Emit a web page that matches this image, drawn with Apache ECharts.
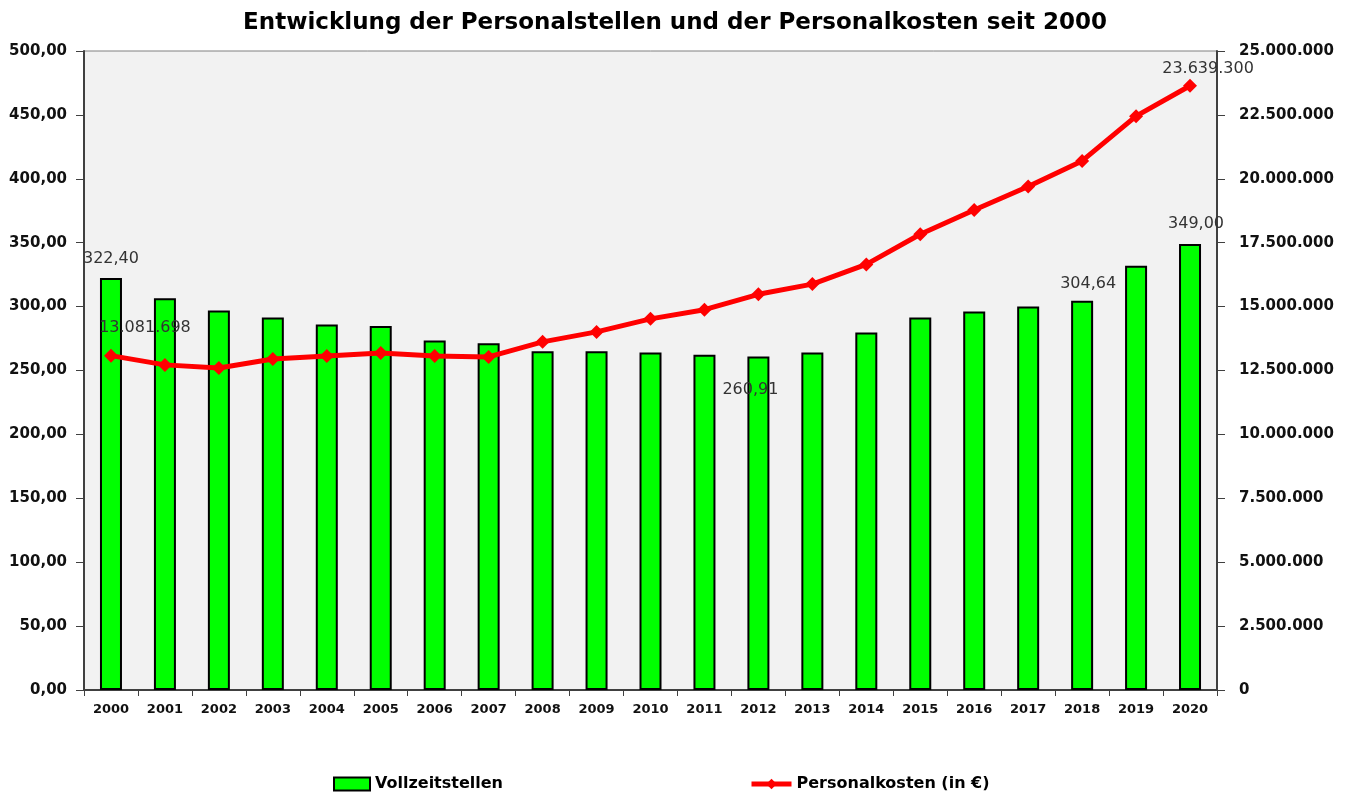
<!DOCTYPE html>
<html>
<head>
<meta charset="utf-8">
<title>Personalstellen und Personalkosten</title>
<script src="https://cdn.jsdelivr.net/npm/echarts@6/dist/echarts.min.js"></script>
<style>
  html, body { margin: 0; padding: 0; background: #fff; }
  #main { width: 1350px; height: 796px; }
</style>
</head>
<body>
<div id="main"></div>
<script>
// Jahre
var years = ['2000','2001','2002','2003','2004','2005','2006','2007','2008','2009','2010',
             '2011','2012','2013','2014','2015','2016','2017','2018','2019','2020'];
// Vollzeitstellen
var stellen = [322.40, 306.5, 297.0, 291.5, 286.0, 284.8, 273.5, 271.3, 265.0, 265.0, 264.0,
               262.4, 260.91, 264.0, 279.8, 291.5, 296.2, 300.0, 304.64, 332.0, 349.00];
// Personalkosten (in €)
var kosten = [13081698, 12720000, 12600000, 12950000, 13070000, 13180000, 13070000, 13030000,
              13620000, 14010000, 14520000, 14880000, 15480000, 15880000, 16650000, 17830000,
              18780000, 19700000, 20700000, 22450000, 23639300];
// Achsen-Beschriftungen (Schritt)
var leftStep = 50, leftMax = 500;
var rightStep = 2500000, rightMax = 25000000;

// nur einzelne Werte werden beschriftet: index -> offset
var barLabels = { 0: {pos: 'top', off: [0, -6]}, 12: {pos: 'insideTop', off: [-8, 20]},
                  18: {pos: 'top', off: [6, -4]}, 20: {pos: 'top', off: [6, -7]} };
var lineLabels = { 0: {pos: 'top', off: [34, -8]}, 20: {pos: 'top', off: [18, 3]} };

function fmtDe2(v) { return v.toFixed(2).replace('.', ','); }
function fmtDeInt(v) { return Math.round(v).toString().replace(/\B(?=(\d{3})+(?!\d))/g, '.'); }

var labelStyle = { fontFamily: 'DejaVu Sans', fontSize: 16, color: '#333' };

var barData = stellen.map(function (v, i) {
    var item = { value: v };
    if (barLabels[i]) {
        item.label = Object.assign({ show: true, position: barLabels[i].pos, offset: barLabels[i].off,
            formatter: function (p) { return fmtDe2(p.value); } }, labelStyle);
    }
    return item;
});
var lineData = kosten.map(function (v, i) {
    var item = { value: v };
    if (lineLabels[i]) {
        item.label = Object.assign({ show: true, position: lineLabels[i].pos, offset: lineLabels[i].off,
            formatter: function (p) { return fmtDeInt(p.value); } }, labelStyle);
    }
    return item;
});

var axisFont = { fontFamily: 'DejaVu Sans', fontWeight: 'bold', fontSize: 15, color: '#111' };
var legendFont = { fontFamily: 'DejaVu Sans', fontWeight: 'bold', fontSize: 16, color: '#000' };

var chart = echarts.init(document.getElementById('main'));
chart.setOption({
    backgroundColor: '#fff',
    animation: false,
    title: {
        text: 'Entwicklung der Personalstellen und der Personalkosten seit 2000',
        left: 'center',
        top: 7,
        textStyle: { fontFamily: 'DejaVu Sans', fontWeight: 'bold', fontSize: 23, color: '#000' }
    },
    legend: [{
        data: [{ name: 'Vollzeitstellen', icon: 'rect' }],
        left: 333, top: 776, padding: 0,
        itemWidth: 36, itemHeight: 13,
        textStyle: legendFont
    }, {
        data: ['Personalkosten (in €)'],
        left: 749, top: 776, padding: 0,
        itemWidth: 40, itemHeight: 13,
        lineStyle: { width: 5 },
        textStyle: legendFont
    }],
    grid: {
        left: 84, right: 133, top: 51, bottom: 106,
        show: true, backgroundColor: '#f2f2f2', borderColor: '#808080', borderWidth: 1
    },
    xAxis: {
        type: 'category',
        data: years,
        axisLine: { lineStyle: { color: '#404040', width: 2 } },
        axisTick: { show: true, length: 6, lineStyle: { color: '#404040' } },
        axisLabel: { fontFamily: 'DejaVu Sans', fontWeight: 'bold', fontSize: 13, color: '#111', margin: 13 }
    },
    yAxis: [{
        type: 'value', min: 0, max: leftMax, interval: leftStep,
        splitLine: { show: false },
        axisLine: { show: true, lineStyle: { color: '#404040', width: 2 } },
        axisTick: { show: true, length: 8, lineStyle: { color: '#404040' } },
        axisLabel: Object.assign({ margin: 17, formatter: function (v) { return fmtDe2(v); } }, axisFont)
    }, {
        type: 'value', min: 0, max: rightMax, interval: rightStep, position: 'right',
        splitLine: { show: false },
        axisLine: { show: true, lineStyle: { color: '#404040', width: 2 } },
        axisTick: { show: true, length: 8, lineStyle: { color: '#404040' } },
        axisLabel: Object.assign({ margin: 22, formatter: function (v) { return fmtDeInt(v); } }, axisFont)
    }],
    series: [{
        name: 'Vollzeitstellen',
        type: 'bar',
        yAxisIndex: 0,
        barWidth: 22,
        data: barData,
        itemStyle: { color: '#00ff00', borderColor: '#000', borderWidth: 2 }
    }, {
        name: 'Personalkosten (in €)',
        type: 'line',
        yAxisIndex: 1,
        data: lineData,
        symbol: 'diamond',
        symbolSize: 14,
        lineStyle: { color: '#ff0000', width: 5 },
        itemStyle: { color: '#ff0000' },
        z: 3
    }]
});
</script>
</body>
</html>
